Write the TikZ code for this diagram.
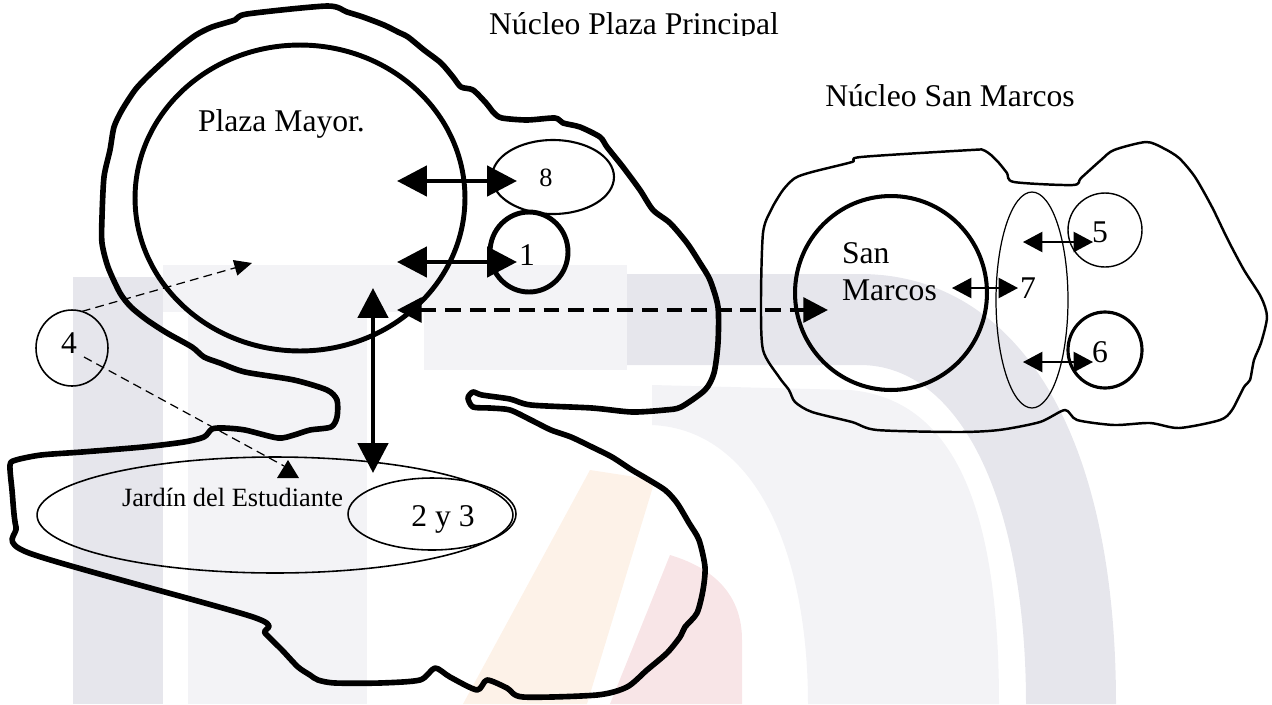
\documentclass[tikz,border=0pt]{standalone}
\usepackage{fontspec}
\setmainfont{Liberation Serif}
\usetikzlibrary{shapes.geometric,arrows.meta}
\definecolor{wmdark}{RGB}{230,230,236}
\definecolor{wmlight}{RGB}{243,243,246}
\definecolor{wmorange}{RGB}{253,242,232}
\definecolor{wmpink}{RGB}{248,229,231}

\begin{document}
\begin{tikzpicture}[x=0.02cm,y=-0.02cm,
  every node/.style={inner sep=0pt,outer sep=0pt},
  zone/.style={ellipse,draw,line width=#1},
  zone/.default=0.8pt,
  txt/.style={anchor=base,font=\fontsize{18}{21}\selectfont},
  smalltxt/.style={anchor=base,font=\fontsize{15}{18}\selectfont},
  outline/.style={line width=3.2pt,line join=round},
  bigarrow/.style={line width=2.8pt,{Triangle[length=17pt,width=17pt]}-{Triangle[length=17pt,width=17pt]}},
  linkarrow/.style={line width=2.3pt,dash pattern=on 9pt off 5pt,{Triangle[length=14pt,width=14pt]}-{Triangle[length=14pt,width=14pt]}},
  thinarrow/.style={line width=0.9pt,{Triangle[length=11pt,width=11.5pt]}-{Triangle[length=11pt,width=11.5pt]}},
  hintarrow/.style={line width=0.7pt,dash pattern=on 5pt off 3pt,-{Triangle[length=10pt,width=9pt]}}]
   \useasboundingbox (0,0) rectangle (1272,704);
   \fill[wmdark] (73,277) rectangle (163,704);
   \fill[wmlight] (163,265) rectangle (627,312);
   \fill[wmlight] (424,312) rectangle (627,370);
   \fill[wmlight] (188,312) rectangle (367,704);
   \fill[wmdark] (627,274) -- (860,274) .. controls (1010,274) and (1116,420) .. (1116,704)
        -- (1026,704) .. controls (1026,500) and (960,365) .. (860,365) -- (627,365) -- cycle;
   \fill[wmlight] (652,385) -- (850,390) .. controls (960,400) and (999,520) .. (999,704)
        -- (808,704) .. controls (808,560) and (760,430) .. (652,425) -- cycle;
   \fill[wmorange] (590,470) -- (655,480) -- (587,704) -- (463,704) -- cycle;
   \fill[wmpink] (670,555) .. controls (720,570) and (742,600) .. (742,640) -- (742,704) -- (610,704) -- cycle;

   \draw[outline] plot[smooth cycle,tension=0.45] coordinates {
     (327,6) (347,12) (363,17) (384,25) (398,32) (408,37) (424,50) (441,63) (453,77) (461,87)
     (473,90) (486,103) (494,113) (502,118) (527,120) (555,118) (563,123) (580,127) (600,137)
     (607,147) (623,167) (640,190) (653,210) (670,223) (687,243) (700,263) (710,280) (718,307)
     (718,343) (714,373) (705,390) (681,407) (665,410) (632,412) (592,408) (531,405) (510,399)
     (482,395) (473,392) (468,398) (473,407) (490,408) (510,410) (531,420) (551,430) (571,437)
     (592,447) (612,457) (632,470) (644,477) (665,490) (677,503) (689,523) (699,540) (705,567)
     (703,590) (697,613) (685,627) (680,637) (667,653) (647,670) (627,687) (597,695) (523,697)
     (507,688) (487,680) (477,690) (450,677) (435,668) (420,680) (380,683) (335,683) (318,680)
     (310,675) (298,667) (282,650) (265,633) (253,617) (29,553) (16,527) (12,490) (10,465)
     (16,460) (41,455) (82,452) (143,447) (184,442) (204,437) (212,429) (224,428) (245,430)
     (278,438) (294,435) (310,430) (331,427) (337,417) (337,400) (327,390) (294,380) (245,372)
     (220,363) (204,357) (192,347) (167,333) (147,320) (131,307) (120,293) (108,267) (102,243)
     (102,217) (104,177) (110,150) (114,127) (122,110) (135,90) (147,77) (163,62) (180,47)
     (196,35) (212,27) (235,20) (247,14)};
   \draw[line width=1.4pt,line join=round] plot[smooth cycle,tension=0.45] coordinates {
     (795,178) (812,172) (852,162) (861,157) (971,150) (983,150) (991,155) (999,163) (1007,173)
     (1014,182) (1073,185) (1081,178) (1101,160) (1114,150) (1146,142) (1163,148) (1179,158)
     (1195,177) (1212,207) (1228,240) (1244,270) (1261,297) (1267,317) (1261,343) (1254,360)
     (1250,380) (1244,387) (1232,410) (1220,420) (1179,428) (1150,423) (1114,425) (1077,420)
     (1065,410) (1040,422) (999,430) (958,432) (877,430) (852,422) (812,412) (795,402) (789,390)
     (779,377) (763,350) (761,300) (763,233) (771,210) (783,190)};

   \node[zone=2.8pt,minimum width=6.6cm,minimum height=6.12cm] (pm) at (300,198) {};
   \node[zone=1.2pt,minimum width=2.44cm,minimum height=1.48cm] (n8) at (553,177) {};
   \node[zone=2.8pt,minimum width=1.56cm,minimum height=1.6cm] (n1) at (529,252) {};
   \node[zone=0.9pt,minimum width=1.44cm,minimum height=1.52cm] (n4) at (72,348) {};
   \node[zone=0.9pt,minimum width=9.52cm,minimum height=2.32cm] (jardin) at (275,515) {};
   \node[zone=0.9pt,minimum width=3.36cm,minimum height=1.44cm] (n23) at (432,514) {};
   \node[zone=2.3pt,minimum width=3.84cm,minimum height=3.88cm] (sm) at (891,293) {};
   \node[zone=0.7pt,minimum width=1.44cm,minimum height=4.32cm] (n7) at (1032,300) {};
   \node[zone=0.8pt,minimum width=1.48cm,minimum height=1.48cm] (n5) at (1105,230) {};
   \node[zone=1.8pt,minimum width=1.48cm,minimum height=1.52cm] (n6) at (1105,350) {};

   \coordinate (pm8) at (397,181);  \coordinate (in8) at (517,181);
   \coordinate (pm1) at (397,262);  \coordinate (in1) at (517,262);
   \coordinate (pmv) at (373,288);  \coordinate (in23) at (373,473);
   \coordinate (pml) at (397,310);  \coordinate (insm) at (828,310);
   \coordinate (sm7) at (952,288);  \coordinate (in7) at (1018,288);
   \coordinate (s75) at (1023,242); \coordinate (in5) at (1093,242);
   \coordinate (s76) at (1023,362); \coordinate (in6) at (1093,362);
   \coordinate (pmh) at (252,263);
   \coordinate (s4) at (84,357);    \coordinate (jh) at (288,460);

   \draw[bigarrow] (pm8) -- (in8);
   \draw[bigarrow] (pm1) -- (in1);
   \draw[bigarrow] (pmv) -- (in23);
   \draw[linkarrow] (pml) -- (insm);
   \draw[thinarrow] (sm7) -- (in7);
   \draw[thinarrow] (s75) -- (in5);
   \draw[thinarrow] (s76) -- (in6);
   \draw[hintarrow] (n4.75) -- (pmh);
   \draw[line width=0.7pt,dash pattern=on 5pt off 3pt] (s4) -- ([shift={(-4,6)}]jh);
   \fill (jh) -- ++(11,18) -- ++(-22,0) -- cycle;

   \begin{scope}
     \clip (0,0) rectangle (1272,35);
     \node[txt] (tpp) at (634,34) {Núcleo Plaza Principal};
   \end{scope}
   \node[txt] (tsmtitle) at (950,106) {Núcleo San Marcos};
   \node[txt,anchor=base west] (tpm) at (198,131) {Plaza Mayor.};
   \node[txt,anchor=base west] (tsan) at (842,263) {San};
   \node[txt,anchor=base west] (tmarcos) at (842,300) {Marcos};
   \node[smalltxt,anchor=base west] (tjardin) at (122,506) {Jardín del Estudiante};
   \node[txt] (t23) at (443,526) {2 y 3};
   \node[smalltxt] (t8) at (546,186) {8};
   \node[txt] (t1) at (527,265) {1};
   \node[txt] (t4) at (69,353) {4};
   \node[txt] (t7) at (1028,298) {7};
   \node[txt] (t5) at (1100,242) {5};
   \node[txt] (t6) at (1100,362) {6};
\end{tikzpicture}
\end{document}
